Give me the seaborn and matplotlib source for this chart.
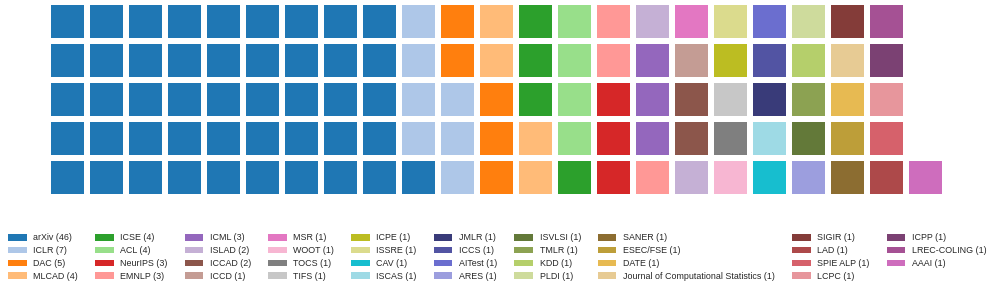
import matplotlib
matplotlib.use("Agg")
import matplotlib.pyplot as plt
from matplotlib.colors import ListedColormap
from matplotlib.patches import Patch
import seaborn as sns
import numpy as np

# venues and number of papers
venues = [
    'arXiv', 'ICLR', 'DAC', 'MLCAD', 'ICSE', 'ACL', 'NeurIPS', 'EMNLP',
    'ICML', 'ISLAD', 'ICCAD', 'ICCD', 'MSR', 'WOOT', 'TOCS', 'TIFS',
    'ICPE', 'ISSRE', 'CAV', 'ISCAS', 'JMLR', 'ICCS', 'AITest', 'ARES',
    'ISVLSI', 'TMLR', 'KDD', 'PLDI', 'SANER', 'ESEC/FSE', 'DATE',
    'Journal of Computational Statistics', 'SIGIR', 'LAD', 'SPIE ALP',
    'LCPC', 'ICPP', 'LREC-COLING', 'AAAI',
]
counts = [
    46, 7, 5, 4, 4, 4, 3, 3,
    3, 2, 2, 1, 1, 1, 1, 1,
    1, 1, 1, 1, 1, 1, 1, 1,
    1, 1, 1, 1, 1, 1, 1,
    1, 1, 1, 1,
    1, 1, 1, 1,
]

n_rows = 5

# tab20 then tab20b, like a long categorical list
colors = sns.color_palette("tab20", 20) + sns.color_palette("tab20b", 20)
colors = colors[:len(venues)]

# build the waffle grid: fill column by column, bottom to top
total = sum(counts)
n_cols = int(np.ceil(total / n_rows))
cells = np.repeat(np.arange(len(venues)), counts)
grid = np.full((n_rows, n_cols), np.nan)
for k, v in enumerate(cells):
    col = k // n_rows
    row = n_rows - 1 - (k % n_rows)
    grid[row, col] = v

sns.set_theme(style="white")
plt.rcParams['font.family'] = ['Liberation Sans', 'DejaVu Sans']

fig = plt.figure(figsize=(9.96, 2.9), dpi=100)
W, H = 996, 290
pitch = 39
ax = fig.add_axes([48.25 / W, (H - 2.25 - n_rows * pitch) / H,
                   n_cols * pitch / W, n_rows * pitch / H])

sns.heatmap(grid, mask=np.isnan(grid), cmap=ListedColormap(colors),
            vmin=-0.5, vmax=len(venues) - 0.5, cbar=False,
            linewidths=3.96, linecolor='white', square=False,
            xticklabels=False, yticklabels=False, ax=ax)
ax.set_axis_off()

handles = [Patch(facecolor=c, edgecolor='none') for c in colors]
labels = [f"{v} ({n})" for v, n in zip(venues, counts)]
fig.legend(handles, labels, loc='lower left', bbox_to_anchor=(0.0, 0.0045),
           ncol=10, frameon=False, fontsize=6.4, handlelength=2.1,
           handleheight=0.75, handletextpad=0.75, columnspacing=1.9,
           labelspacing=0.42, borderaxespad=0.5)

fig.savefig('out.png', dpi=100)
